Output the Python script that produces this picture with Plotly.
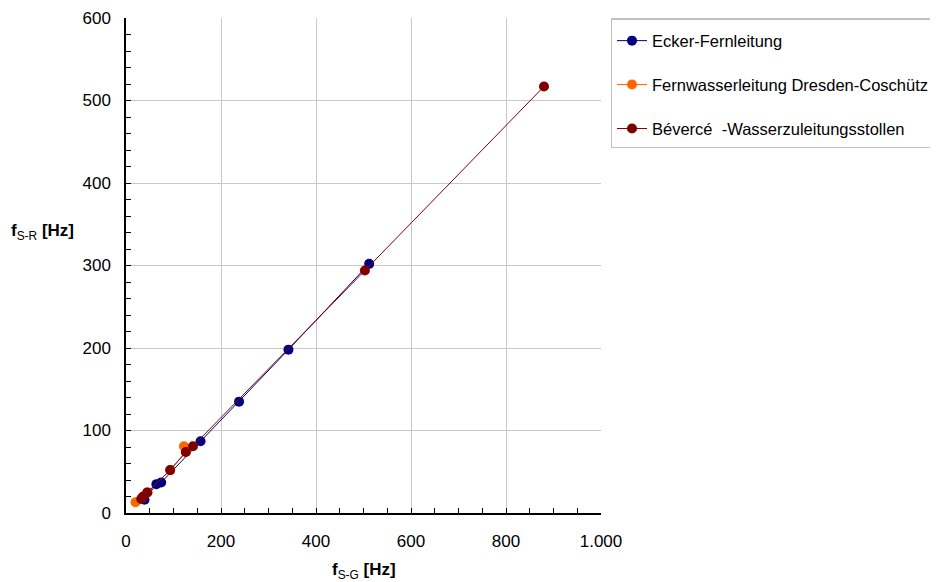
import plotly.graph_objects as go

# Data
ecker_x = [39, 64, 74, 157, 238, 342, 512]
ecker_y = [16, 35, 37, 87, 135, 198, 302]

dresden_x = [20, 33, 45, 93, 126, 122]
dresden_y = [13, 18, 25, 52, 74, 81]

bevercé_x = [32, 36, 45, 93, 126, 141, 503, 880]
bevercé_y = [17, 20, 25, 52, 74, 81, 294, 517]

x_tickvals = [0, 200, 400, 600, 800, 1000]
x_ticktext = ["0", "200", "400", "600", "800", "1.000"]
y_tickvals = [0, 100, 200, 300, 400, 500, 600]

names = ["Ecker-Fernleitung", "Fernwasserleitung Dresden-Coschütz", "Bévercé  -Wasserzuleitungsstollen"]
colors = ["#000080", "#FF6600", "#800000"]

fig = go.Figure()
for i, (xs, ys) in enumerate([(ecker_x, ecker_y), (dresden_x, dresden_y), (bevercé_x, bevercé_y)]):
    fig.add_trace(go.Scatter(
        x=xs, y=ys, mode="lines+markers", name=names[i], legendgroup=str(i),
        line=dict(color=colors[i], width=1),
        marker=dict(color=colors[i], size=10),
    ))

axis_common = dict(
    showgrid=True, gridcolor="#C8C8C8", gridwidth=1,
    showline=True, linecolor="black", linewidth=1.5, mirror=False,
    ticks="inside", ticklen=5, tickcolor="black",
    tickfont=dict(family="Liberation Sans, Arial", size=17, color="black"),
    zeroline=False,
)

fig.update_xaxes(range=[0, 1000], tickvals=x_tickvals, ticktext=x_ticktext,
                 ticklabelstandoff=12,
                 minor=dict(dtick=50, ticks="inside", ticklen=5, tickcolor="black", showgrid=False),
                 **axis_common)
fig.update_yaxes(range=[0, 600], tickvals=y_tickvals, ticklabelstandoff=10,
                 minor=dict(dtick=20, ticks="inside", ticklen=5, tickcolor="black", showgrid=False),
                 **axis_common)

fig.add_annotation(text="<b>f</b><sub>S-G</sub><b> [Hz]</b>", xref="paper", yref="paper",
                   x=0.5, y=-0.117, xanchor="center", yanchor="middle", showarrow=False,
                   font=dict(family="Liberation Sans, Arial", size=17, color="black"))
fig.add_annotation(text="<b>f</b><sub>S-R</sub><b> [Hz]</b>", xref="paper", yref="paper",
                   x=-0.246, y=0.568, xanchor="left", yanchor="middle", showarrow=False,
                   font=dict(family="Liberation Sans, Arial", size=17, color="black"))

fig.update_layout(
    width=930, height=574,
    margin=dict(l=118, r=337, t=10, b=69, autoexpand=False),
    paper_bgcolor="white", plot_bgcolor="white",
    font=dict(family="Liberation Sans, Arial", size=16, color="black"),
    legend=dict(x=1.02, y=1, xanchor="left", yanchor="top",
                bordercolor="#C0C0C0", borderwidth=1.5, bgcolor="white",
                font=dict(size=16.5), tracegroupgap=19.5, traceorder="grouped",
                title=dict(text=" ", font=dict(size=3))),
    showlegend=True,
)

fig.write_html("out.html")
